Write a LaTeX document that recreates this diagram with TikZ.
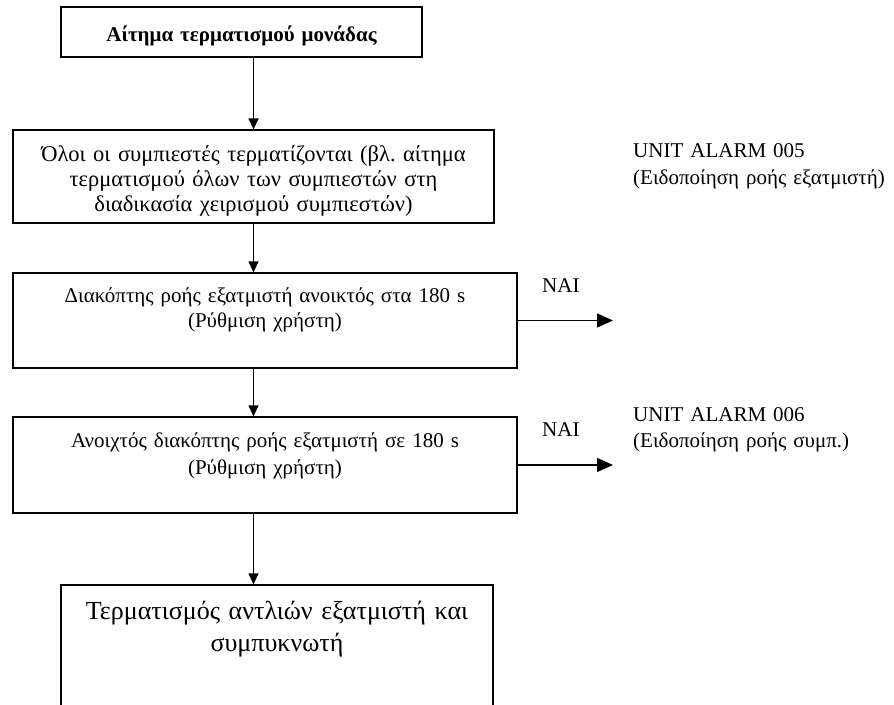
\documentclass[tikz,border=0pt]{standalone}
\usepackage{fontspec}
\setmainfont{Liberation Serif}
\usetikzlibrary{arrows.meta,positioning}
\tikzstyle{stepbox}=[draw=black,line width=1.2pt,rectangle,inner sep=0pt]
\tikzstyle{boxtext}=[anchor=base,align=center,inner sep=0pt]
\frenchspacing

\begin{document}
\begin{tikzpicture}[x=1pt,y=-1pt,
    down/.style={-{Triangle[length=11pt,width=10pt]},line width=1.2pt},
    side/.style={-{Triangle[length=16pt,width=14pt]},line width=1.2pt},
    every node/.append style={font=\fontsize{21}{26}\selectfont}]
  \clip (0,0) rectangle (894,704);
  % boxes
  \node[stepbox, minimum width=361pt, minimum height=50pt] (request) at (241.5,32) {};
  \node[stepbox, minimum width=481pt, minimum height=93pt] (allcomp) at (253.5,176.5) {};
  \node[stepbox, minimum width=504pt, minimum height=95pt] (evapsw) at (265,320.5) {};
  \node[stepbox, minimum width=504pt, minimum height=96pt] (condsw) at (265,465) {};
  \node[stepbox, minimum width=432pt, minimum height=174pt] (pumps) at (277,672) {};
  % texts inside the boxes
  \node[boxtext, text width=361pt, font=\fontsize{21}{25}\selectfont\bfseries, yshift=-35.5pt]
    (request-t) at (request.north) {Αίτημα τερματισμού μονάδας};
  \node[boxtext, text width=481pt, font=\fontsize{22.5}{25}\selectfont, yshift=-32pt]
    (allcomp-t) at (allcomp.north) {Όλοι οι συμπιεστές τερματίζονται (βλ. αίτημα\\
    τερματισμού όλων των συμπιεστών στη\\ διαδικασία χειρισμού συμπιεστών)};
  \node[boxtext, text width=504pt, font=\fontsize{21}{25}\selectfont, yshift=-30pt]
    (evapsw-t) at (evapsw.north) {Διακόπτης ροής εξατμιστή ανοικτός στα 180 s\\ (Ρύθμιση χρήστη)};
  \node[boxtext, text width=504pt, font=\fontsize{21}{27}\selectfont, yshift=-31pt]
    (condsw-t) at (condsw.north) {Ανοιχτός διακόπτης ροής εξατμιστή σε 180 s\\ (Ρύθμιση χρήστη)};
  \node[boxtext, text width=432pt, font=\fontsize{26}{32}\selectfont, yshift=-35pt]
    (pumps-t) at (pumps.north) {Τερματισμός αντλιών εξατμιστή και\\ συμπυκνωτή};
  % side labels
  \node[anchor=base west, inner sep=0pt] (yes1) at (542,292) {NAI};
  \node[anchor=base west, inner sep=0pt] (yes2) at (542,436) {NAI};
  \node[anchor=base west, align=left, text width=260pt, inner sep=0pt, font=\fontsize{21}{27}\selectfont]
    (alarm5) at (633,157) {UNIT ALARM 005\\ (Ειδοποίηση ροής εξατμιστή)};
  \node[anchor=base west, align=left, text width=260pt, inner sep=0pt, font=\fontsize{21}{26}\selectfont]
    (alarm6) at (633,421) {UNIT ALARM 006\\ (Ειδοποίηση ροής συμπ.)};
  % connectors
  \coordinate (evapsw-end) at (613,320.5);
  \draw[down] (request.south -| allcomp.north) -- (allcomp.north);
  \draw[down] (allcomp.south) -- (allcomp.south |- evapsw.north);
  \draw[down] (evapsw.south -| allcomp.south) -- (condsw.north -| allcomp.south);
  \draw[down] (condsw.south -| allcomp.south) -- (pumps.north -| allcomp.south);
  \draw[side] (evapsw.east) -- (evapsw-end);
  \draw[side] (condsw.east) -- (condsw.east -| evapsw-end);
\end{tikzpicture}
\end{document}
